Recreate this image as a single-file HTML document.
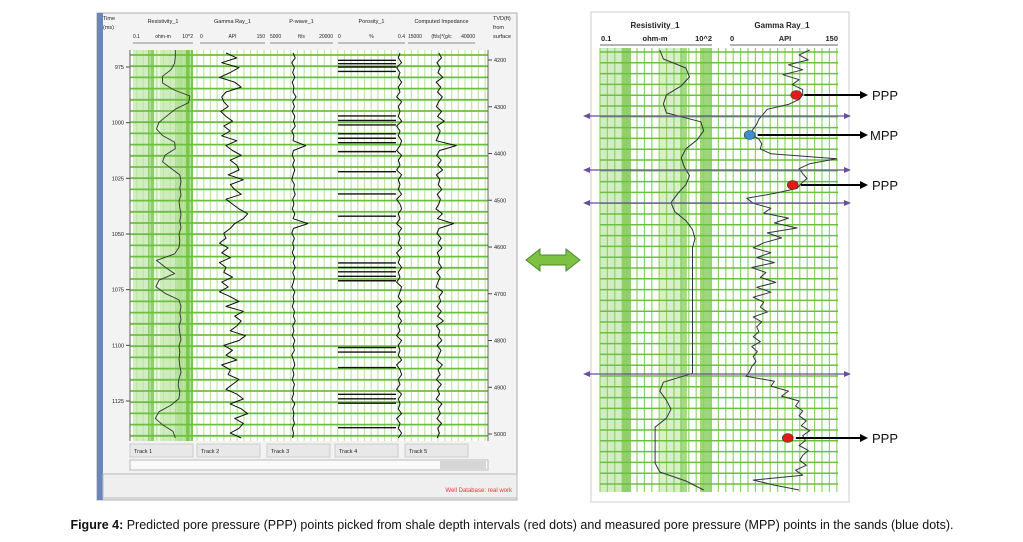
<!DOCTYPE html>
<html><head><meta charset="utf-8"><style>
body{margin:0;background:#fff;width:1023px;height:542px;overflow:hidden;font-family:"Liberation Sans",sans-serif}
svg{position:absolute;left:0;top:0}
</style></head><body>
<svg id="s" width="1023" height="542"></svg>
<script>
// ---- data ----
const timeTicks=[975,1000,1025,1050,1075,1100,1125];
const tvdTicks=[4200,4300,4400,4500,4600,4700,4800,4900,5000];
const trackNames=["Track 1","Track 2","Track 3","Track 4","Track 5"];
const leftRes=[13,13,12,8,3,3,10,70,60,13,5,2,1.5,3,12,13,4,3,8,22,25,22,25,20,22,25,22,25,20,22,20,12,1.5,4,12,2,1.4,4,20,25,22,25,20,22,25,20,22,20,22,25,20,18,22,20,8,2,1.3,3,10,13];
const leftGR=[60,85,50,90,70,45,80,95,60,50,55,65,48,60,75,55,70,50,85,60,
75,95,70,85,90,65,100,70,80,95,60,75,90,110,100,80,70,55,60,45,
65,50,70,45,60,55,75,50,65,45,70,90,60,100,80,95,85,70,105,90,
55,75,60,85,50,70,65,90,75,60,85,100,70,95,110,80,100,90,70,95];
const leftPW=[10500,11000,10200,10800,10400,10900,10300,10700,10500,11200,10400,10800,10300,10900,10600,11000,10200,10700,10500,13500,
10600,10300,10800,10400,10900,10500,10200,10800,10600,11000,10400,10700,10300,10900,10500,14000,10600,10200,10800,10400,
10700,10300,10900,10500,11000,10400,10800,10600,10200,10900,10500,10700,10300,10800,10600,11000,10400,10700,10300,10900,
10500,10800,10200,10600,10900,10400,10700,10300,10800,10500,10600,10200,10900,10400,10700,10500,10800,10300,10600,10400];
const leftPor=[0.37,0.36,0.38,0.35,0.37,0.36,0.38,0.36,0.37,0.35,0.38,0.36,0.37,0.36,0.38,0.35,0.37,0.36,0.38,0.37,
0.35,0.38,0.36,0.37,0.35,0.38,0.36,0.37,0.36,0.38,0.35,0.37,0.38,0.36,0.37,0.35,0.38,0.36,0.37,0.36,
0.38,0.35,0.37,0.36,0.38,0.36,0.37,0.35,0.38,0.37,0.36,0.38,0.35,0.37,0.36,0.38,0.36,0.37,0.35,0.38,
0.36,0.37,0.36,0.38,0.35,0.37,0.38,0.36,0.37,0.35,0.38,0.36,0.37,0.36,0.38,0.35,0.37,0.36,0.38,0.36];
const leftImp=[26500,27500,25800,27000,26200,28000,25500,27200,26000,27800,26400,25600,27500,26000,28500,25800,27000,26300,25500,33000,
26800,25700,27400,26100,27900,25600,26900,26300,27600,25900,27100,26500,25400,27800,26000,32000,26600,25800,27300,26200,
27700,25900,26800,26400,27500,25700,27000,26200,25500,27900,26600,27200,25800,27400,26100,28200,25600,26900,26300,27600,
25900,27300,26500,25700,27800,26200,27000,25600,27400,26000,26800,25500,27600,26300,27100,25800,27500,26100,26700,25900];
const porBars=[972,973.5,975,977,997,999,1001,1005,1007,1009,1013,1022,1032,1042,1063,1065,1067,1069,1071,1101,1103,1110,1122,1124,1126,1137];
const rightRes=[4,5,20,25,15,6,5,6,50,60,40,20,15,18,25,20,12,8,10,20,30,35,30,30,30,30,30,30,30,30,30,30,30,30,30,30,30,5,4,6,8,6,3,3,3,3,3,4,20,60];
const rightGR=[110,95,108,80,100,72,95,85,100,
100,95,80,
50,44,38,35,30,
25,38,42,40,55,
148,110,
95,100,106,98,92,60,
21,
30,55,45,80,60,92,50,70,
45,30,55,35,60,28,48,40,62,35,55,30,45,40,50,30,42,35,38,30,40,28,36,30,34,28,25,
20,
60,55,80,70,95,
90,100,95,105,98,110,100,104,95,108,100,96,105,90,
100,30,60,95];
const dotsY=[95,135,185,438];
const dotsGR=[91,25,86,79];
const dotColors=["#e21a1a","#3a8fd0","#e21a1a","#e21a1a"];
const dotLabels=["PPP","MPP","PPP","PPP"];
const markerY=[116,170,203,374];

const S=document.getElementById('s');const NS="http://www.w3.org/2000/svg";
function el(t,a,p){const e=document.createElementNS(NS,t);for(const k in a)e.setAttribute(k,a[k]);(p||S).appendChild(e);return e;}
function txt(x,y,s,sz,anch,col,w){const e=el('text',{x:x,y:y,'font-size':sz,'text-anchor':anch||'start',fill:col||'#222','font-weight':w||'normal'});e.textContent=s;return e;}

// ---- left window ----
const lw=el('g',{});


el('rect',{x:97,y:13,width:420,height:487,fill:'#f3f3f3',stroke:'#aab'}, lw);
el('rect',{x:97,y:13,width:6,height:487,fill:'#6b86b8'}, lw);
el('rect',{x:103,y:474,width:414,height:24,fill:'#efefef',stroke:'#bbb'}, lw);
const status=txt(512,492,'Well Database: real work',6,'end','#e33');

const pL=130,pR=488,pT=50,pB=441;
el('rect',{x:pL,y:pT,width:pR-pL,height:pB-pT,fill:'#fff'},lw);
const tY=v=>67+(v-975)*(401-67)/150;
const dY=v=>60+(v-4200)*(434-60)/800;
const tracks=[[133,193],[200,265],[270,333],[338,405],[408,475]];
const heads=[["Resistivity_1","0.1","ohm-m","10^2"],["Gamma Ray_1","0","API","150"],["P-wave_1","5000","ft/s","20000"],["Porosity_1","0","%","0.4"],["Computed Impedance","15000","(ft/s)*(g/c","40000"]];
[[133,148,'#d3edc3'],[148,154,'#8fd06a'],[154,160,'#e6f5dc'],[160,175,'#d0ecbe'],[175,186,'#b3e099'],[186,193,'#7bc94f']].forEach(b=>el('rect',{x:b[0],y:pT,width:b[1]-b[0],height:pB-pT,fill:b[2]},lw));
for(let x=pL;x<=pR;x+=6.7){el('line',{x1:x,y1:pT,x2:x,y2:pB,stroke:'#bfe5a8','stroke-width':1.2},lw);}
for(let y=pT+5;y<pB;y+=11.2){el('line',{x1:pL,y1:y,x2:pR,y2:y,stroke:'#6cc040','stroke-width':1.8},lw);}
tracks.forEach((t,i)=>{
 const hx=(t[0]+t[1])/2;
 const h=txt(hx,23,heads[i][0],5.5,'middle');
 txt(t[0],38,heads[i][1],5,'start');txt(hx,38,heads[i][2],5,'middle');txt(t[1],38,heads[i][3],5,'end');
 el('line',{x1:t[0],y1:43,x2:t[1],y2:43,stroke:'#666','stroke-width':0.7},lw);
 const b=el('rect',{x:t[0]-3,y:444,width:63,height:13,fill:'#e8e8e8',stroke:'#ccc'},lw);
 
 txt(t[0]+1,453,trackNames[i],5.5,'start');
});
el('rect',{x:130,y:460,width:358,height:10,fill:'#fafafa',stroke:'#bbb'},lw);
const sb=el('rect',{x:440,y:461,width:46,height:8,fill:'#d6d6d6'},lw);

txt(103,20,'Time',5.5);txt(103,29,'(ms)',5.5);
txt(493,20,'TVD(ft)',5.5);txt(493,29,'from',5.5);txt(493,38,'surface',5.5);
timeTicks.forEach(v=>{const y=tY(v);el('line',{x1:126,y1:y,x2:130,y2:y,stroke:'#444'},lw);txt(124,y+2,v,5.5,'end');});
tvdTicks.forEach(v=>{const y=dY(v);el('line',{x1:488,y1:y,x2:492,y2:y,stroke:'#444'},lw);txt(494,y+2,v,5.5,'start');});
el('line',{x1:130,y1:pT,x2:130,y2:pB,stroke:'#666'},lw);el('line',{x1:488,y1:pT,x2:488,y2:pB,stroke:'#666'},lw);
function curve(arr,xf,t0,t1,name,w,col){let d='';arr.forEach((v,i)=>{const y=t0+i*(t1-t0)/(arr.length-1);d+=(i?'L':'M')+xf(v).toFixed(1)+','+y.toFixed(1);});const p=el('path',{d:d,fill:'none',stroke:col||'#111','stroke-width':w||1,'stroke-linejoin':'round'});return p;}
const logX=(a,b,lo,hi)=>v=>a+(Math.log10(v)-Math.log10(lo))/(Math.log10(hi)-Math.log10(lo))*(b-a);
const linX=(a,b,lo,hi)=>v=>a+(v-lo)/(hi-lo)*(b-a);
curve(leftRes,logX(133,193,0.1,100),pT,pB-3,'resistivity-curve',0.9,'#333');
curve(leftGR,linX(200,265,0,150),pT+3,pB-3,'gamma-ray-curve',1);
curve(leftPW,linX(270,333,5000,20000),pT+3,pB-3,'p-wave-curve',1);
curve(leftPor,linX(338,405,0,0.4),pT+3,pB-3,'porosity-curve',1);
curve(leftImp,linX(408,475,15000,40000),pT+3,pB-3,'impedance-curve',1);
porBars.forEach(v=>{const y=tY(v);const l=el('line',{x1:338,y1:y,x2:396,y2:y,stroke:'#111','stroke-width':1.4},lw);});

// ---- double arrow ----
const da=el('path',{d:'M526,260 L540,249 L540,255 L566,255 L566,249 L580,260 L566,271 L566,265 L540,265 L540,271 Z',fill:'#7cc142',stroke:'#4d8a2a','stroke-width':1});


// ---- right panel ----
const rw=el('g',{});


el('rect',{x:591,y:12,width:258,height:490,fill:'#fff',stroke:'#ccc'},rw);
const rL=600,rR=838,rT=48,rB=492;
[[600,622,'#d3edc3'],[622,631,'#8fd06a'],[631,660,'#fff'],[660,680,'#d8efc8'],[680,687,'#a6db86'],[687,700,'#fff'],[700,712,'#9ed67c']].forEach(b=>el('rect',{x:b[0],y:rT,width:b[1]-b[0],height:rB-rT,fill:b[2]},rw));
for(let x=rL;x<=rR;x+=7.4){el('line',{x1:x,y1:rT,x2:x,y2:rB,stroke:'#8fd36a','stroke-width':1.2},rw);}
for(let y=rT+4;y<rB;y+=10.8){el('line',{x1:rL,y1:y,x2:rR,y2:y,stroke:'#6cc040','stroke-width':1.5},rw);}
txt(655,28,'Resistivity_1',8,'middle','#222','bold');txt(782,28,'Gamma Ray_1',8,'middle','#222','bold');
txt(601,41,'0.1',7.5,'start','#222','bold');txt(655,41,'ohm-m',7.5,'middle','#222','bold');txt(712,41,'10^2',7.5,'end','#222','bold');
txt(730,41,'0',7.5,'start','#222','bold');txt(785,41,'API',7.5,'middle','#222','bold');txt(838,41,'150',7.5,'end','#222','bold');
el('line',{x1:600,y1:45,x2:712,y2:45,stroke:'#666'},rw);el('line',{x1:730,y1:45,x2:838,y2:45,stroke:'#666'},rw);
const rRes=logX(600,712,0.1,100),rGR=linX(732,838,0,150);
curve(rightRes,rRes,rT+2,rB-2,'resistivity-detail-curve',1,'#334');
curve(rightGR,rGR,rT+2,rB-2,'gamma-ray-detail-curve',1,'#334');
markerY.forEach(y=>{const g=el('g',{});
 el('line',{x1:586,y1:y,x2:848,y2:y,stroke:'#6a4ea0','stroke-width':1.2},g);
 el('path',{d:`M583,${y} l7,-3 l0,6 z`,fill:'#6a4ea0'},g);el('path',{d:`M851,${y} l-7,-3 l0,6 z`,fill:'#6a4ea0'},g);});
dotsY.forEach((y,i)=>{const x=rGR(dotsGR[i]);
 const c=el('ellipse',{cx:x,cy:y,rx:5.5,ry:4.5,fill:dotColors[i],stroke:'#333','stroke-width':0.6});
 
 el('line',{x1:x+8,y1:y,x2:862,y2:y,stroke:'#000','stroke-width':2});
 el('path',{d:`M868,${y} l-8,-4 l0,8 z`,fill:'#000'});
 const t=txt(dotLabels[i]==='MPP'?870:872,y+5,dotLabels[i],13,'start','#111');
 });

// caption
const cap=el('text',{x:512,y:529,'font-size':12.5,'text-anchor':'middle',fill:'#111'});

const b=el('tspan',{'font-weight':'bold'},cap);b.textContent='Figure 4:';
const r=el('tspan',{},cap);r.textContent=' Predicted pore pressure (PPP) points picked from shale depth intervals (red dots) and measured pore pressure (MPP) points in the sands (blue dots).';
</script>
</body></html>
